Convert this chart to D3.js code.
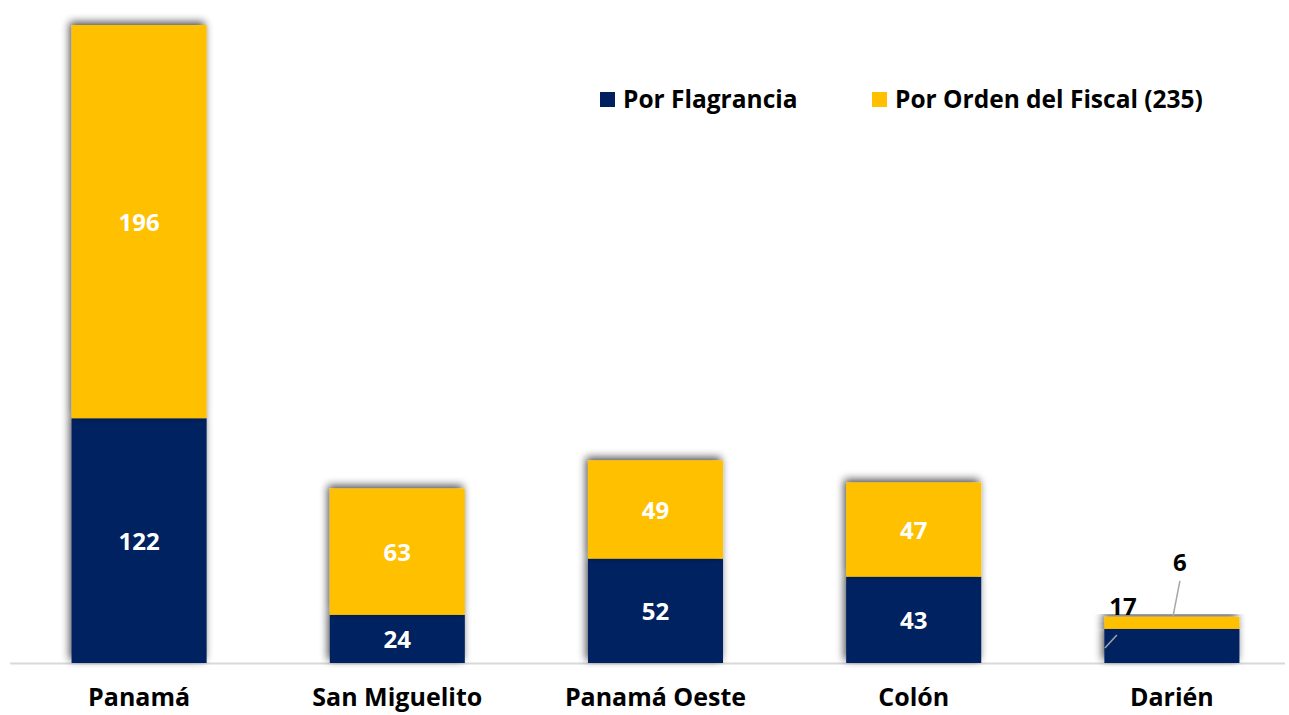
<!DOCTYPE html>
<html>
<head>
<meta charset="utf-8">
<script src="https://cdn.jsdelivr.net/npm/d3@7"></script>
<style>
  body { margin: 0; background: #fff; }
  svg { display: block; font-family: "Open Sans", Lato, sans-serif; }
</style>
</head>
<body>
<svg id="chart" width="1289" height="715"></svg>
<script>
var regions = ['Panamá', 'San Miguelito', 'Panamá Oeste', 'Colón', 'Darién'];
var flagrancia = [122, 24, 52, 43, 17];
var ordenFiscal = [196, 63, 49, 47, 6];
var seriesNames = ['Por Flagrancia', 'Por Orden del Fiscal (235)'];
var colors = ['#002060', '#ffc000'];

var rows = regions.map(function(r, i) {
  return { region: r, flag: flagrancia[i], fiscal: ordenFiscal[i] };
});
var stack = d3.stack().keys(['flag', 'fiscal'])(rows);

var svg = d3.select('#chart');

var x = d3.scaleBand()
  .domain(regions)
  .range([10, 1301])
  .paddingInner(0.477)
  .paddingOuter(0.2385);
var y = d3.scaleLinear()
  .domain([0, 318])
  .range([663, 25]);

// soft grey shadow behind the bars
var defs = svg.append('defs');
var f = defs.append('filter').attr('id', 'shadow')
  .attr('x', '-20%').attr('y', '-20%').attr('width', '140%').attr('height', '140%');
f.append('feGaussianBlur').attr('in', 'SourceAlpha').attr('stdDeviation', 4).attr('result', 'blur');
f.append('feOffset').attr('in', 'blur').attr('dx', -2).attr('dy', -3).attr('result', 'off');
f.append('feComponentTransfer').attr('in', 'off').attr('result', 'shadow')
  .append('feFuncA').attr('type', 'linear').attr('slope', 0.7);
var merge = f.append('feMerge');
merge.append('feMergeNode').attr('in', 'shadow');
merge.append('feMergeNode').attr('in', 'SourceGraphic');

// baseline
svg.append('line')
  .attr('x1', 10).attr('x2', 1285)
  .attr('y1', y(0) + 0.5).attr('y2', y(0) + 0.5)
  .attr('stroke', '#d9d9d9').attr('stroke-width', 2);

var layers = svg.selectAll('.layer')
  .data(stack)
  .enter()
  .append('g')
  .attr('class', 'layer')
  .attr('fill', function(d, i) { return colors[i]; });

layers.selectAll('rect')
  .data(function(d) { return d; })
  .enter()
  .append('rect')
  .attr('filter', 'url(#shadow)')
  .attr('x', function(d) { return x(d.data.region); })
  .attr('width', x.bandwidth())
  .attr('y', function(d) { return y(d[1]); })
  .attr('height', function(d) { return y(d[0]) - y(d[1]); });

// value labels
stack.forEach(function(layer, li) {
  layer.forEach(function(d) {
    var v = d[1] - d[0];
    var cx = x(d.data.region) + x.bandwidth() / 2;
    if (d.data.region === 'Darién') {
      // small segments get outside labels with leader lines
      if (li === 0) {
        svg.append('line').attr('x1', cx - 67).attr('y1', y(d[0]) - 15)
          .attr('x2', cx - 55).attr('y2', y(d[1]) + 6)
          .attr('stroke', '#a6a6a6').attr('stroke-width', 1.5);
        svg.append('text').attr('x', cx - 49).attr('y', y(d[1]) - 14)
          .attr('text-anchor', 'middle').attr('font-size', 24).attr('font-weight', 700)
          .attr('fill', '#000').text(v);
      } else {
        svg.append('line').attr('x1', cx + 1).attr('y1', y(d[1]))
          .attr('x2', cx + 8).attr('y2', y(d[1]) - 36)
          .attr('stroke', '#a6a6a6').attr('stroke-width', 1.5);
        svg.append('text').attr('x', cx + 8).attr('y', y(d[1]) - 46)
          .attr('text-anchor', 'middle').attr('font-size', 24).attr('font-weight', 700)
          .attr('fill', '#000').text(v);
      }
      return;
    }
    svg.append('text')
      .attr('x', cx)
      .attr('y', (y(d[0]) + y(d[1])) / 2 + 9)
      .attr('text-anchor', 'middle')
      .attr('font-size', 24)
      .attr('font-weight', 700)
      .attr('fill', '#fff')
      .text(v);
  });
});

// category labels
svg.selectAll('.cat')
  .data(regions)
  .enter()
  .append('text')
  .attr('class', 'cat')
  .attr('x', function(d) { return x(d) + x.bandwidth() / 2; })
  .attr('y', 706)
  .attr('text-anchor', 'middle')
  .attr('font-size', 25)
  .attr('font-weight', 700)
  .attr('fill', '#000')
  .text(function(d) { return d; });

// legend
var legendX = [600, 872];
var legend = svg.selectAll('.leg')
  .data(seriesNames)
  .enter()
  .append('g')
  .attr('class', 'leg')
  .attr('transform', function(d, i) { return 'translate(' + legendX[i] + ',91)'; });
legend.append('rect')
  .attr('width', 15).attr('height', 15).attr('y', 1)
  .attr('fill', function(d, i) { return colors[i]; });
legend.append('text')
  .attr('x', 23).attr('y', 17)
  .attr('font-size', 24.5).attr('font-weight', 700).attr('fill', '#000')
  .text(function(d) { return d; });
</script>
</body>
</html>
